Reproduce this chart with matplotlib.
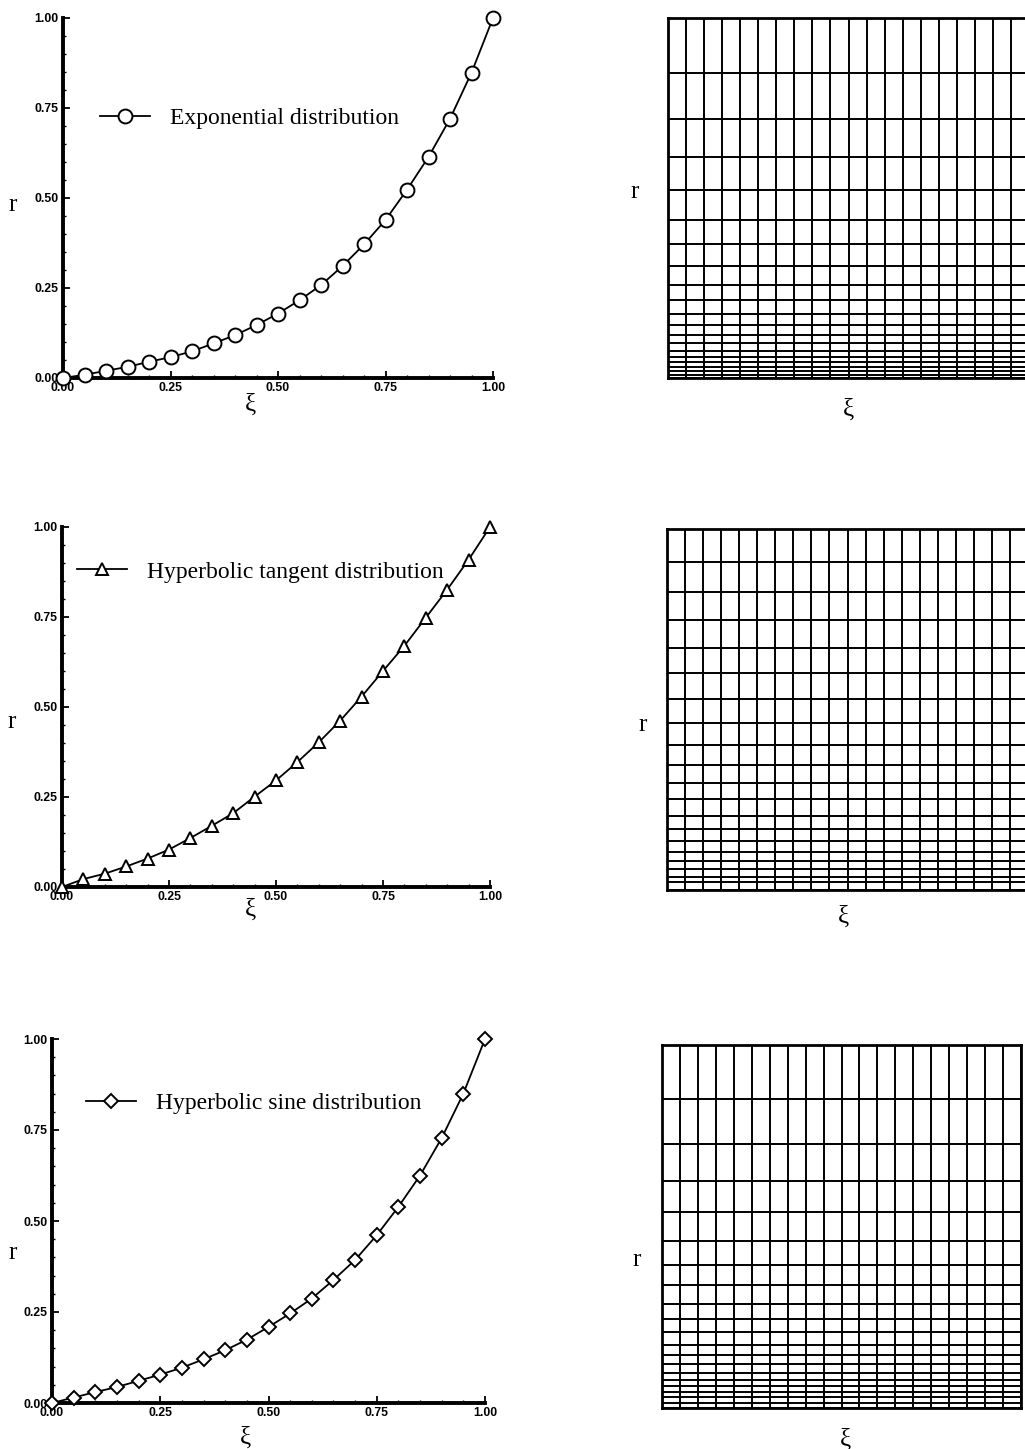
import numpy as np
import matplotlib
matplotlib.use("Agg")
import matplotlib.pyplot as plt
from matplotlib.ticker import MultipleLocator, FixedFormatter, FixedLocator

# grid coordinate xi, 21 nodes
xi = [0.00, 0.05, 0.10, 0.15, 0.20, 0.25, 0.30, 0.35, 0.40, 0.45, 0.50,
      0.55, 0.60, 0.65, 0.70, 0.75, 0.80, 0.85, 0.90, 0.95, 1.00]

# r values
r_exp = [0.000, 0.009, 0.020, 0.031, 0.045, 0.058, 0.074, 0.096, 0.119, 0.147, 0.179,
         0.216, 0.258, 0.311, 0.371, 0.439, 0.523, 0.614, 0.720, 0.848, 1.000]
r_tanh = [0.000, 0.022, 0.037, 0.057, 0.079, 0.104, 0.136, 0.170, 0.205, 0.251, 0.296,
          0.347, 0.402, 0.462, 0.529, 0.600, 0.670, 0.748, 0.826, 0.909, 1.000]
r_sinh = [0.000, 0.015, 0.030, 0.044, 0.061, 0.078, 0.097, 0.120, 0.145, 0.174, 0.209,
          0.246, 0.287, 0.338, 0.393, 0.461, 0.539, 0.625, 0.728, 0.850, 1.000]

names = ["Exponential distribution", "Hyperbolic tangent distribution",
         "Hyperbolic sine distribution"]
tick_vals = [0.00, 0.25, 0.50, 0.75, 1.00]
tick_labels = ["0.00", "0.25", "0.50", "0.75", "1.00"]

W, H = 1025, 1449
fig = plt.figure(figsize=(W / 100, H / 100), dpi=100)


def box(l, r, t, b):
    return [l / W, 1 - b / H, (r - l) / W, (b - t) / H]


# pixel boxes (left, right, top, bottom)
left_boxes = [(63, 493, 18, 378), (62, 490, 527, 887), (52, 485, 1039, 1403)]
right_boxes = [(668, 1029, 18, 378), (667, 1028, 529, 890), (662, 1021, 1045, 1408)]
markers = [("o", 10), ("^", 8), ("D", 7)]
leg_pos = [(0.086, 0.722), (0.035, 0.875), (0.079, 0.824)]
lab_left = [((13, 205), (250, 405)), ((12, 722), (250, 910)), ((13, 1253), (245, 1438))]
lab_right = [((635, 192), (848, 410)), ((643, 725), (843, 917)), ((637, 1260), (845, 1440))]

series = [r_exp, r_tanh, r_sinh]
serif = "Liberation Serif"

for i in range(3):
    ax = fig.add_axes(box(*left_boxes[i]))
    m, ms = markers[i]
    ax.plot(xi, series[i], color="black", lw=1.3, marker=m, ms=ms,
            mfc="white", mec="black", mew=1.4, clip_on=False, zorder=3,
            label=names[i])
    ax.set_xlim(0, 1)
    ax.set_ylim(0, 1)
    for s in ["top", "right"]:
        ax.spines[s].set_visible(False)
    for s in ["left", "bottom"]:
        ax.spines[s].set_linewidth(2.8)
    ax.xaxis.set_major_locator(FixedLocator(tick_vals))
    ax.yaxis.set_major_locator(FixedLocator(tick_vals))
    ax.xaxis.set_major_formatter(FixedFormatter(tick_labels))
    ax.yaxis.set_major_formatter(FixedFormatter(tick_labels))
    ax.xaxis.set_minor_locator(MultipleLocator(0.05))
    ax.yaxis.set_minor_locator(MultipleLocator(0.05))
    ax.tick_params(which="major", direction="in", length=5, width=1.3, pad=3)
    ax.tick_params(which="minor", direction="in", length=2.5, width=1.0)
    for lb in ax.get_xticklabels() + ax.get_yticklabels():
        lb.set_fontfamily("Liberation Sans")
        lb.set_fontweight("bold")
        lb.set_fontsize(8.8)
    ax.legend(loc="center left", bbox_to_anchor=leg_pos[i], frameon=False,
              prop={"family": serif, "size": 17}, handlelength=2.1,
              handletextpad=0.85, borderpad=0, borderaxespad=0)
    (rx, ry), (kx, ky) = lab_left[i]
    fig.text(rx / W, 1 - ry / H, "r", family=serif, size=18, ha="center", va="center")
    fig.text(kx / W, 1 - ky / H, "ξ", family=serif, size=18, ha="center", va="center")

    # mesh drawn from the same distribution
    gx = fig.add_axes(box(*right_boxes[i]))
    gx.vlines(xi, 0, 1, color="black", lw=1.4)
    gx.hlines(series[i], 0, 1, color="black", lw=1.4)
    gx.set_xlim(0, 1)
    gx.set_ylim(0, 1)
    gx.set_xticks([])
    gx.set_yticks([])
    for s in gx.spines.values():
        s.set_linewidth(2.0)
    (rx, ry), (kx, ky) = lab_right[i]
    fig.text(rx / W, 1 - ry / H, "r", family=serif, size=18, ha="center", va="center")
    fig.text(kx / W, 1 - ky / H, "ξ", family=serif, size=18, ha="center", va="center")

fig.savefig("out.png", dpi=100)
